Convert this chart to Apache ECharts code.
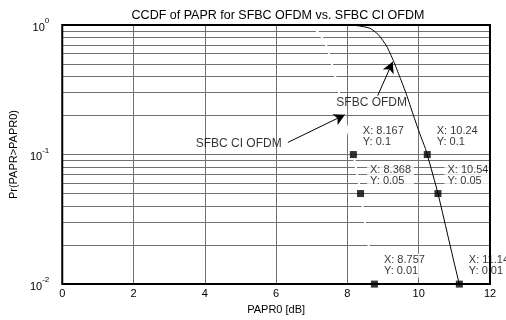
<!DOCTYPE html>
<html>
<head>
<meta charset="utf-8">
<script src="https://cdn.jsdelivr.net/npm/echarts@6/dist/echarts.min.js"></script>
<style>
  html, body { margin: 0; padding: 0; background: #fff; }
  #chart { width: 506px; height: 320px; }
</style>
</head>
<body>
<div id="chart"></div>
<script>
// SFBC OFDM curve (black)
const ofdmX = [4, 8.0, 8.26, 8.63, 8.87, 9.10, 9.29, 9.47, 9.66, 9.84, 10.03, 10.19, 10.24, 10.54, 11.14, 11.4];
const ofdmY = [1, 0.998, 0.99, 0.944, 0.841, 0.687, 0.53, 0.397, 0.289, 0.205, 0.145, 0.111, 0.1, 0.05, 0.01, 0.006];

// SFBC CI OFDM curve (white)
const ciX = [4, 6.6, 6.8, 7.10, 7.26, 7.41, 7.54, 7.66, 7.78, 7.90, 8.03, 8.167, 8.368, 8.757, 8.9];
const ciY = [1, 0.998, 0.99, 0.92, 0.82, 0.69, 0.53, 0.40, 0.29, 0.205, 0.145, 0.1, 0.05, 0.01, 0.006];

// data tips
const tipX = [8.167, 10.24, 8.368, 10.54, 8.757, 11.14];
const tipY = [0.1, 0.1, 0.05, 0.05, 0.01, 0.01];

// text annotations and their arrows (data coords)
const noteText = ['SFBC OFDM', 'SFBC CI OFDM'];
const noteX = [8.68, 4.95];
const noteY = [0.25, 0.122];
const arrowFrom = [[8.85, 0.285], [6.33, 0.124]];
const arrowTo = [[9.27, 0.52], [7.93, 0.203]];

const xMin = 0, xMax = 12, xStep = 2;
const yDecades = [0.01, 0.1];

const FONT = '"Liberation Sans", Arial, sans-serif';
const GRID_COLOR = '#707070';

// minor log grid lines 2..9 in each decade
const minorLines = [];
yDecades.forEach(function (d) {
    for (let m = 2; m <= 9; m += 1) {
        minorLines.push({ yAxis: +(d * m).toPrecision(3) });
    }
});

const pairs = (xs, ys) => xs.map((x, i) => [x, ys[i]]);

const chart = echarts.init(document.getElementById('chart'));

chart.setOption({
    animation: false,
    backgroundColor: '#fff',
    title: {
        text: 'CCDF of PAPR for SFBC OFDM vs. SFBC CI OFDM',
        left: 273,
        top: 4,
        textAlign: 'center',
        textStyle: { fontFamily: FONT, fontSize: 12.5, fontWeight: 'normal', color: '#000' }
    },
    grid: {
        left: 59,
        right: 16,
        top: 25,
        bottom: 29,
        show: true,
        borderColor: '#000',
        borderWidth: 2,
        backgroundColor: 'rgba(0,0,0,0)',
        z: 12
    },
    xAxis: {
        type: 'value',
        min: xMin,
        max: xMax,
        interval: xStep,
        name: 'PAPR0 [dB]',
        nameLocation: 'middle',
        nameGap: 18,
        nameTextStyle: { fontFamily: FONT, fontSize: 11, color: '#000' },
        axisLine: { show: false },
        axisTick: { show: false },
        axisLabel: { margin: 4, fontFamily: FONT, fontSize: 11, color: '#000' },
        splitLine: { show: true, lineStyle: { color: GRID_COLOR, width: 1 } }
    },
    yAxis: {
        type: 'log',
        logBase: 10,
        min: 0.01,
        max: 1,
        name: 'Pr(PAPR>PAPR0)',
        nameLocation: 'middle',
        nameGap: 31,
        nameTextStyle: { fontFamily: FONT, fontSize: 11, color: '#000' },
        axisLine: { show: false },
        axisTick: { show: false },
        minorTick: { show: false },
        axisLabel: {
            margin: 13,
            formatter: function (v) {
                return '{b|10}{e|' + Math.round(Math.log10(v)) + '}';
            },
            rich: {
                b: { fontFamily: FONT, fontSize: 11, color: '#000', lineHeight: 16, verticalAlign: 'bottom' },
                e: { fontFamily: FONT, fontSize: 8, color: '#000', lineHeight: 8, verticalAlign: 'top' }
            }
        },
        splitLine: { show: true, lineStyle: { color: GRID_COLOR, width: 1 } }
    },
    series: [
        {
            name: 'grid',
            type: 'line',
            data: [],
            silent: true,
            markLine: {
                z: 1,
                silent: true,
                symbol: ['none', 'none'],
                label: { show: false },
                lineStyle: { color: GRID_COLOR, width: 1, type: 'solid' },
                data: minorLines
            }
        },
        {
            name: 'SFBC CI OFDM',
            type: 'line',
            z: 3,
            data: pairs(ciX, ciY),
            showSymbol: false,
            smooth: 0.2,
            lineStyle: { color: '#fff', width: 2 }
        },
        {
            name: 'SFBC OFDM',
            type: 'line',
            z: 3,
            data: pairs(ofdmX, ofdmY),
            showSymbol: false,
            smooth: 0.2,
            lineStyle: { color: '#000', width: 1 }
        },
        {
            name: 'notes',
            type: 'scatter',
            z: 6,
            symbolSize: 0,
            data: noteText.map((t, i) => ({ name: t, value: [noteX[i], noteY[i]] })),
            label: {
                show: true,
                position: 'inside',
                formatter: '{b}',
                fontFamily: FONT,
                fontSize: 12,
                color: '#000'
            },
            markLine: {
                silent: true,
                symbol: ['none', 'arrow'],
                symbolSize: [9, 11],
                label: { show: false },
                lineStyle: { color: '#000', width: 1, type: 'solid' },
                data: arrowFrom.map((p, i) => [{ coord: p }, { coord: arrowTo[i] }])
            }
        },
        {
            name: 'tips',
            type: 'scatter',
            z: 8,
            symbol: 'rect',
            symbolSize: 7,
            itemStyle: { color: '#000' },
            data: pairs(tipX, tipY),
            label: {
                show: true,
                position: [10, -27],
                formatter: function (p) {
                    return 'X: ' + p.value[0] + '\nY: ' + p.value[1];
                },
                fontFamily: FONT,
                fontSize: 11,
                lineHeight: 11,
                color: '#000',
                backgroundColor: '#fff',
                padding: [1, 3, 1, 3]
            }
        }
    ]
});
</script>
</body>
</html>
